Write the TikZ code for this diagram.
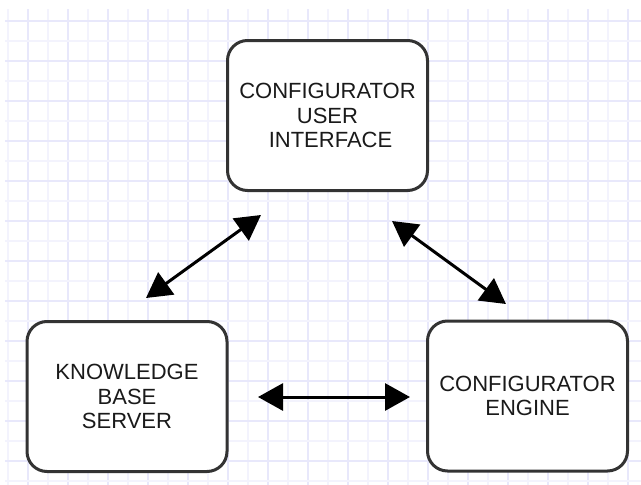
\documentclass[tikz,border=0pt]{standalone}
\usepackage{fontspec}
\setmainfont{Liberation Sans}
\usetikzlibrary{arrows.meta}
\definecolor{gridmajor}{HTML}{E8E8FB}
\definecolor{gridminor}{HTML}{F3F3FD}
\definecolor{boxline}{HTML}{333333}
\definecolor{labeltext}{HTML}{1A1A1A}
\tikzset{
  box/.style={draw=boxline, line width=3pt, rounded corners=20pt, fill=white,
    minimum width=200pt, minimum height=150pt, inner sep=0pt, align=center,
    text=labeltext, font=\fontsize{22}{24.5}\selectfont},
  link/.style={line width=3pt, draw=black,
    {Triangle[length=25pt,width=27pt]}-{Triangle[length=25pt,width=27pt]}},
  gridline/.style={line width=2pt}
}
\begin{document}
\begin{tikzpicture}[x=1pt,y=-1pt]
  \useasboundingbox (0,0) rectangle (641,485);
  \fill[white] (0,0) rectangle (641,485);

  % background grid paper
  \begin{scope}
    \clip (5,9) rectangle (641,485);
    \foreach \k in {0,...,31} {
      \pgfmathsetmacro{\gx}{8+20*\k}
      \ifodd\k
        \draw[gridline, gridmajor] (\gx,9) -- (\gx,485);
      \else
        \draw[gridline, gridminor] (\gx,9) -- (\gx,485);
      \fi
    }
    \foreach \k in {0,...,23} {
      \pgfmathsetmacro{\gy}{20.7+20*\k}
      \ifodd\k
        \draw[gridline, gridminor] (5,\gy) -- (641,\gy);
      \else
        \draw[gridline, gridmajor] (5,\gy) -- (641,\gy);
      \fi
    }
  \end{scope}

  % components
  \node[box] (ui)  at (327.5,115.5) {CONFIGURATOR\\USER\\\hspace*{6pt}INTERFACE};
  \node[box] (kb)  at (127,396.5)   {KNOWLEDGE\\BASE\\SERVER};
  \node[box] (eng) at (527.5,396)   {CONFIGURATOR\\ENGINE};

  % arrow end points between the boxes
  \coordinate (kbUp)   at (146,298);
  \coordinate (uiLeft) at (261,215);
  \coordinate (uiRight) at (392,221);
  \coordinate (engUp)  at (506,304);
  \coordinate (kbRight) at (258,397);
  \coordinate (engLeft) at (410,397);

  % two-way links
  \draw[link] (kbUp) -- (uiLeft);
  \draw[link] (uiRight) -- (engUp);
  \draw[link] (kbRight) -- (engLeft);
\end{tikzpicture}
\end{document}
